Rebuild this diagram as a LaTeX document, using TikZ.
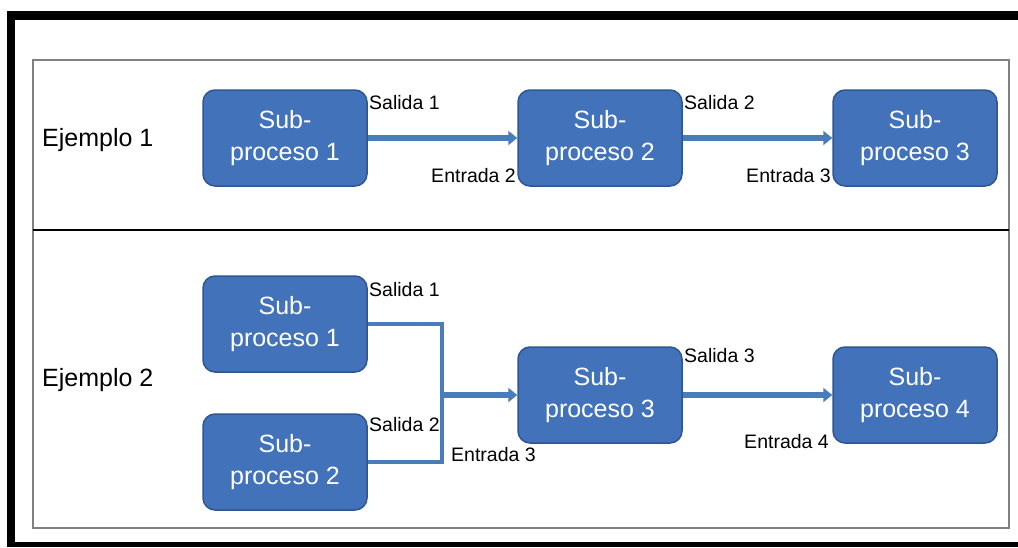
\documentclass[tikz,border=0pt]{standalone}
\usepackage{fontspec}
\newfontfamily\diagfont{Liberation Sans}
\usetikzlibrary{arrows.meta,calc}
\definecolor{boxfill}{RGB}{66,114,186}
\definecolor{boxline}{RGB}{46,86,146}
\definecolor{flowline}{RGB}{74,124,188}
\definecolor{framegray}{RGB}{128,128,128}

\begin{document}
\begin{tikzpicture}[
        %Environment config
        x=1pt,y=-1pt,
        font=\diagfont,
        %Environment styles
        BoxCfg/.style={
            rectangle,
            rounded corners=12pt,
            draw=boxline,
            line width=1.5pt,
            fill=boxfill,
            text=white,
            minimum width=164pt,
            minimum height=96pt,
            align=center,
            font=\diagfont\fontsize{25}{32}\selectfont
        },
        LabelCfg/.style={
            inner sep=0pt,
            font=\diagfont\fontsize{19.5}{24}\selectfont
        },
        TitleCfg/.style={
            inner sep=0pt,
            anchor=west,
            font=\diagfont\fontsize{25}{30}\selectfont
        },
        FlowCfg/.style={
            draw=flowline,
            line width=6pt,
            -{Triangle[length=9pt,width=14pt]}
        }
    ]
    \useasboundingbox (0,0) rectangle (1018,547);

    %outer frame
    \fill[black] (7,11) rectangle (1018,20);
    \fill[black] (7,11) rectangle (15,547);
    \fill[black] (7,542) rectangle (1018,547);
    \draw[framegray,line width=1.5pt] (33,60) rectangle (1009,528);
    \draw[black,line width=1.5pt] (33,230) -- (1009,230);

    %Example 1
    \node[TitleCfg] (T1) at (42,140) {Ejemplo 1};
    \path
        (285,138) node[BoxCfg] (SP11) {Sub-\\proceso 1}
            ++ (315,0) node[BoxCfg] (SP12) {Sub-\\proceso 2}
            ++ (315,0) node[BoxCfg] (SP13) {Sub-\\proceso 3};

    \draw[FlowCfg] (SP11.east) -- (SP12.west);
    \draw[FlowCfg] (SP12.east) -- (SP13.west);

    \node[LabelCfg,anchor=west] (S11) at (369,103) {Salida 1};
    \node[LabelCfg,anchor=east] (E12) at (516,176) {Entrada 2};
    \node[LabelCfg,anchor=west] (S12) at (684,103) {Salida 2};
    \node[LabelCfg,anchor=east] (E13) at (831,176) {Entrada 3};

    %Example 2
    \node[TitleCfg] (T2) at (42,380) {Ejemplo 2};
    \path
        (285,324) node[BoxCfg] (SP21) {Sub-\\proceso 1}
            ++ (0,138) node[BoxCfg] (SP22) {Sub-\\proceso 2}
        (600,395) node[BoxCfg] (SP23) {Sub-\\proceso 3}
            ++ (315,0) node[BoxCfg] (SP24) {Sub-\\proceso 4};
    \coordinate (J) at (442,395);

    \draw[flowline,line width=4pt] (SP21.east) -| (J) |- (SP22.east);
    \draw[FlowCfg] (J) -- (SP23.west);
    \draw[FlowCfg] (SP23.east) -- (SP24.west);

    \node[LabelCfg,anchor=west] (S21) at (369,290) {Salida 1};
    \node[LabelCfg,anchor=west] (S22) at (369,425) {Salida 2};
    \node[LabelCfg,anchor=west] (E23) at (451,455) {Entrada 3};
    \node[LabelCfg,anchor=west] (S23) at (684,356) {Salida 3};
    \node[LabelCfg,anchor=east] (E24) at (829,442) {Entrada 4};
\end{tikzpicture}
\end{document}
